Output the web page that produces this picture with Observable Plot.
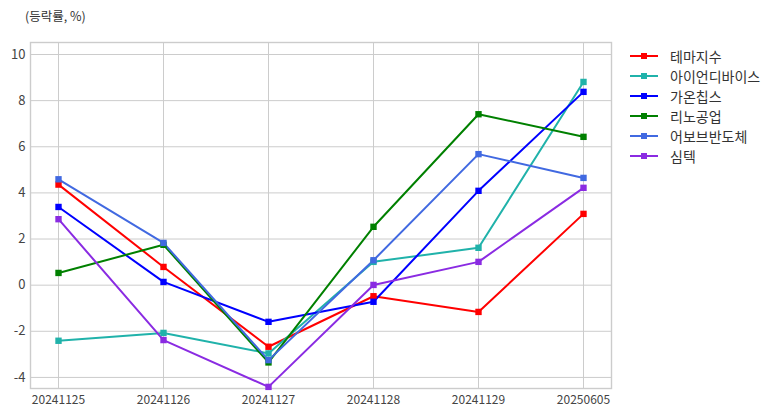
<!DOCTYPE html>
<html>
<head>
<meta charset="utf-8">
<script src="https://cdn.jsdelivr.net/npm/d3@7"></script>
<script src="https://cdn.jsdelivr.net/npm/@observablehq/plot@0.6"></script>
<style>
  html, body { margin: 0; padding: 0; background: #fff; }
  body { font-family: "Noto Sans CJK KR", "Noto Sans", sans-serif; }
  #wrap { position: relative; width: 782px; height: 416px; }
  #title { position: absolute; left: 25px; top: 6px; font-size: 12.5px; color: #333; font-family: "Noto Sans CJK KR", sans-serif; }
  #legend { position: absolute; left: 630px; top: 46px; font-size: 14px; color: #333; font-family: "Noto Sans CJK KR", sans-serif; }
  .row { display: flex; align-items: center; height: 20px; }
  .row svg { margin-right: 12px; }
</style>
</head>
<body>
<div id="wrap">
  <div id="chart"></div>
  <div id="title">(등락률, %)</div>
  <div id="legend"></div>
</div>
<script>
const dates = ["20241125", "20241126", "20241127", "20241128", "20241129", "20250605"];
const names = ["테마지수", "아이언디바이스", "가온칩스", "리노공업", "어보브반도체", "심텍"];
const colors = ["red", "lightseagreen", "blue", "green", "royalblue", "blueviolet"];
const theme = [4.36, 0.79, -2.67, -0.48, -1.16, 3.09];
const ironDevice = [-2.41, -2.07, -2.96, 1.01, 1.62, 8.81];
const gaonChips = [3.39, 0.14, -1.59, -0.72, 4.09, 8.38];
const lino = [0.53, 1.75, -3.35, 2.53, 7.41, 6.43];
const abov = [4.59, 1.83, -3.25, 1.08, 5.68, 4.65];
const simmtech = [2.86, -2.38, -4.41, 0.01, 1.01, 4.22];
const yTicks = [-4, -2, 0, 2, 4, 6, 8, 10];

const series = [theme, ironDevice, gaonChips, lino, abov, simmtech];
const data = [];
names.forEach((n, i) => series[i].forEach((v, j) => data.push({name: n, date: dates[j], value: v})));

const chart = Plot.plot({
  width: 782,
  height: 416,
  marginLeft: 30,
  marginRight: 171,
  marginTop: 42,
  marginBottom: 28,
  style: {fontFamily: "'Noto Sans CJK KR', 'Noto Sans', sans-serif", fontSize: "12px", color: "#444", background: "#fff"},
  x: {type: "point", domain: dates, padding: 0.25, label: null},
  y: {domain: [-4.48, 10.52], label: null},
  color: {domain: names, range: colors},
  marks: [
    Plot.gridX(dates, {stroke: "#cccccc", strokeOpacity: 1, strokeWidth: 1}),
    Plot.gridY(yTicks, {stroke: "#cccccc", strokeOpacity: 1, strokeWidth: 1}),
    Plot.frame({stroke: "#cccccc", strokeWidth: 1.4}),
    Plot.axisY(yTicks, {tickSize: 0, tickPadding: 5, fontSize: 13, tickFormat: d => d < 0 ? "-" + Math.abs(d) : d}),
    Plot.axisX(dates, {tickSize: 0, tickPadding: 7, fontSize: 12}),
    Plot.line(data, {x: "date", y: "value", z: "name", stroke: "name", strokeWidth: 2}),
    Plot.dot(data, {x: "date", y: "value", fill: "name", symbol: "square", r: 3.6, stroke: null})
  ]
});
document.getElementById("chart").appendChild(chart);

const legend = document.getElementById("legend");
names.forEach((n, i) => {
  const row = document.createElement("div");
  row.className = "row";
  row.innerHTML = `<svg width="28" height="10"><line x1="0" x2="28" y1="5" y2="5" stroke="${colors[i]}" stroke-width="2"/><rect x="11" y="2" width="6" height="6" fill="${colors[i]}"/></svg><span>${n}</span>`;
  legend.appendChild(row);
});
</script>
</body>
</html>
